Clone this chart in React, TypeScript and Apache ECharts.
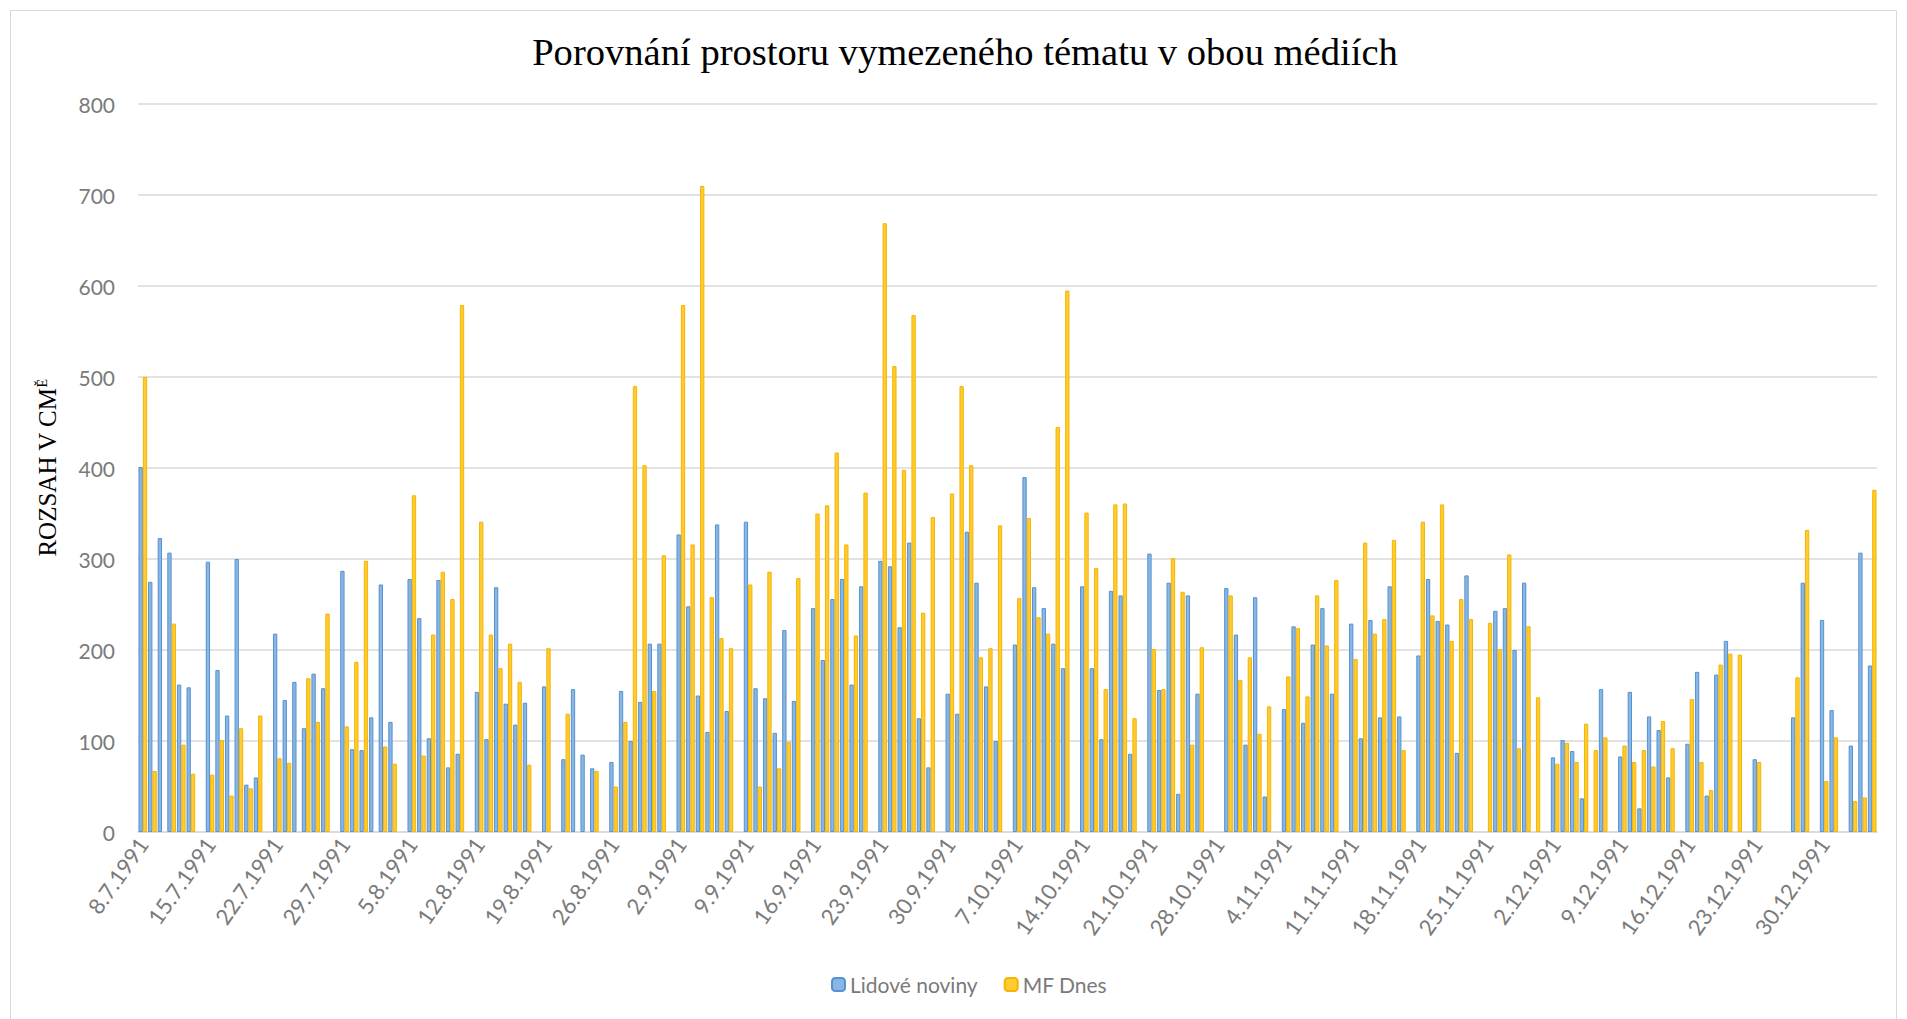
import React, { useEffect, useRef } from "react";
import * as echarts from "echarts";

// Daily categories: 8.7.1991 .. 4.1.1992 (181 days, Sundays empty)
const START_YEAR = 1991;
const START_MONTH = 6; // July (0-based)
const START_DAY = 8;
const DAY_COUNT = 181;
const categories: string[] = [];
for (let i = 0; i < DAY_COUNT; i++) {
  const d = new Date(START_YEAR, START_MONTH, START_DAY + i);
  categories.push(`${d.getDate()}.${d.getMonth() + 1}.${d.getFullYear()}`);
}

const seriesNames = ["Lidové noviny", "MF Dnes"];

const lidoveNoviny: (number | null)[] = [
  401, 275, 323, 307, 162, 159, null,
  297, 178, 128, 300, 52, 60, null,
  218, 145, 165, 114, 174, 158, null,
  287, 91, 90, 126, 272, 121, null,
  278, 235, 103, 277, 71, 86, null,
  154, 102, 269, 141, 118, 142, null,
  160, null, 80, 157, 85, 70, null,
  77, 155, 100, 143, 207, 207, null,
  327, 248, 150, 110, 338, 133, null,
  341, 158, 147, 109, 222, 144, null,
  246, 189, 256, 278, 162, 270, null,
  298, 292, 225, 318, 125, 71, null,
  152, 130, 330, 274, 160, 100, null,
  206, 390, 269, 246, 207, 180, null,
  270, 180, 102, 265, 260, 86, null,
  306, 156, 274, 42, 260, 152, null,
  null, 268, 217, 96, 258, 39, null,
  135, 226, 120, 206, 246, 152, null,
  229, 103, 233, 126, 270, 127, null,
  194, 278, 232, 228, 87, 282, null,
  null, 243, 246, 200, 274, null, null,
  82, 101, 89, 37, null, 157, null,
  83, 154, 26, 127, 112, 60, null,
  97, 176, 40, 173, 210, null, null,
  80, null, null, null, 126, 274, null,
  233, 134, null, 95, 307, 183,
];

const mfDnes: (number | null)[] = [
  500, 67, null, 229, 96, 64, null,
  63, 101, 40, 114, 48, 128, null,
  81, 76, null, 169, 121, 240, null,
  116, 187, 298, null, 94, 75, null,
  370, 84, 217, 286, 256, 579, null,
  341, 217, 180, 207, 165, 74, null,
  202, null, 130, null, null, 67, null,
  50, 121, 490, 403, 155, 304, null,
  579, 316, 710, 258, 213, 202, null,
  272, 50, 286, 70, 99, 279, null,
  350, 359, 417, 316, 216, 373, null,
  669, 512, 398, 568, 241, 346, null,
  372, 490, 403, 192, 202, 337, null,
  257, 345, 236, 218, 445, 595, null,
  351, 290, 157, 360, 361, 125, null,
  201, 157, 301, 264, 96, 203, null,
  null, 260, 167, 192, 108, 138, null,
  171, 224, 149, 260, 205, 277, null,
  190, 318, 218, 234, 321, 90, null,
  341, 238, 360, 210, 256, 234, null,
  230, 201, 305, 92, 226, 148, null,
  75, 98, 77, 119, 90, 104, null,
  95, 77, 90, 72, 122, 92, null,
  146, 77, 46, 184, 196, 195, null,
  77, null, null, null, 170, 332, null,
  56, 104, null, 34, 38, 376,
];

const TITLE = "Porovnání prostoru vymezeného tématu v obou médiích";
const Y_NAME_MAIN = "ROZSAH V CM";
const Y_NAME_SUP = "Ě";

export default function App() {
  const ref = useRef<HTMLDivElement>(null);

  useEffect(() => {
    if (!ref.current) return;
    const chart = echarts.init(ref.current, undefined, { renderer: "svg" });
    const gray = "#7a7a7a";
    const sans = "Lato";
    chart.setOption({
      animation: false,
      backgroundColor: "#ffffff",
      graphic: [
        {
          type: "rect",
          shape: { x: 10.5, y: 10.5, width: 1886, height: 1100 },
          style: { fill: "none", stroke: "#d9d9d9", lineWidth: 1 },
          silent: true,
        },
        {
          type: "text",
          x: 965,
          y: 52,
          style: {
            text: TITLE,
            font: '38.6px "Liberation Serif"',
            fill: "#000000",
            textAlign: "center",
            textVerticalAlign: "middle",
          },
        },
      ],
      legend: {
        data: seriesNames,
        left: 826,
        top: 969,
        itemWidth: 13,
        itemHeight: 13,
        itemGap: 26,
        textStyle: { color: gray, fontSize: 21, fontFamily: sans },
      },
      grid: { left: 138, right: 30, top: 104, bottom: 187, containLabel: false },
      xAxis: {
        type: "category",
        data: categories,
        boundaryGap: true,
        axisLine: { lineStyle: { color: "#d9d9d9", width: 1.5 } },
        axisTick: { interval: 6, length: 10, lineStyle: { color: "#d9d9d9", width: 1.5 } },
        axisLabel: {
          interval: 6,
          rotate: 55,
          margin: 8,
          color: gray,
          fontSize: 22,
          fontFamily: sans,
        },
      },
      yAxis: {
        type: "value",
        min: 0,
        max: 800,
        interval: 100,
        axisLine: { show: false },
        axisTick: { show: false },
        splitLine: { lineStyle: { color: "#d9d9d9", width: 1.5 } },
        axisLabel: { color: gray, fontSize: 21, fontFamily: sans, margin: 23 },
        name: `{a|${Y_NAME_MAIN}}{b|${Y_NAME_SUP}}`,
        nameLocation: "middle",
        nameRotate: 90,
        nameGap: 78,
        nameTextStyle: {
          rich: {
            a: { fontFamily: "Liberation Serif", fontSize: 25, color: "#000000" },
            b: {
              fontFamily: "Liberation Serif",
              fontSize: 14,
              color: "#000000",
              verticalAlign: "top",
            },
          },
        },
      },
      series: [
        {
          name: seriesNames[0],
          type: "bar",
          data: lidoveNoviny,
          barGap: "0%",
          barCategoryGap: "10%",
          itemStyle: { color: "#8ab6e3", borderColor: "#5592d0", borderWidth: 1 },
        },
        {
          name: seriesNames[1],
          type: "bar",
          data: mfDnes,
          barGap: "0%",
          barCategoryGap: "10%",
          itemStyle: { color: "#ffcb33", borderColor: "#f5b400", borderWidth: 1 },
        },
      ],
    });
    return () => chart.dispose();
  }, []);

  return (
    <div
      ref={ref}
      style={{ position: "absolute", left: 0, top: 0, width: 1907, height: 1019 }}
    />
  );
}
